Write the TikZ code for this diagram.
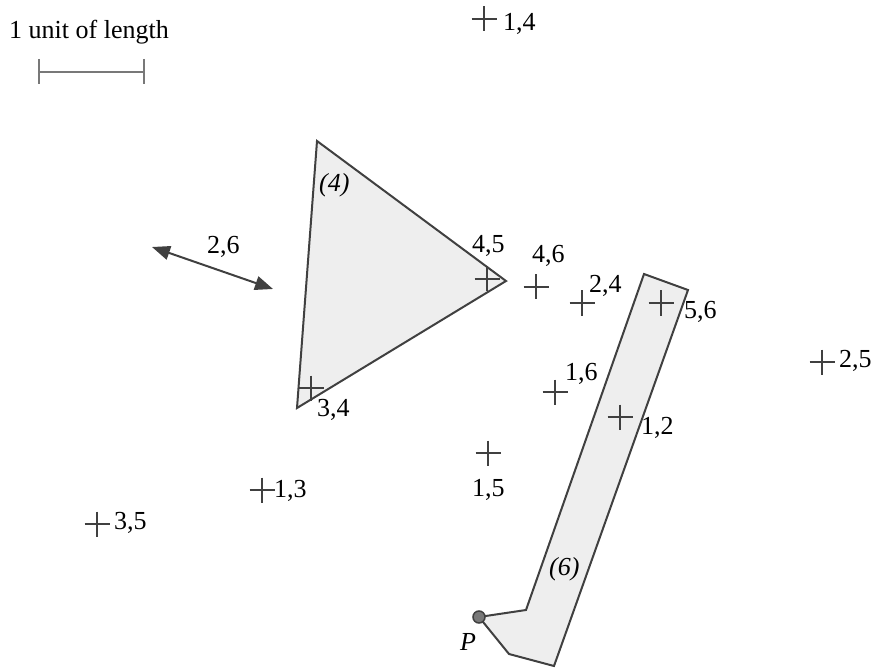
\documentclass[tikz,border=0pt]{standalone}
\usepackage{fontspec}
\setmainfont{Liberation Serif}
\usetikzlibrary{arrows.meta}
\definecolor{dk}{RGB}{64,64,64}
\definecolor{lt}{RGB}{238,238,238}
\definecolor{barc}{RGB}{120,120,120}
\tikzset{
  mk/.style={draw=dk, line width=1.5pt},
  region/.style={draw=dk, line width=2pt, fill=lt, line join=miter},
  lbl/.style={inner sep=0pt, anchor=base west, font=\fontsize{26}{30}\selectfont},
  ilbl/.style={lbl, font=\fontsize{26}{30}\selectfont\itshape},
  dblarrow/.style={draw=dk, line width=2pt, {Triangle[length=18pt,width=14pt]}-{Triangle[length=18pt,width=14pt]}},
  scalebar/.style={draw=barc, line width=1.6pt},
}
\newcommand\mkcross[1]{\draw[mk] (#1) +(-12.5,0) -- +(12.5,0) +(0,-12.5) -- +(0,12.5);}
\begin{document}
\begin{tikzpicture}[x=1pt,y=-1pt]
\useasboundingbox (0,0) rectangle (876,671);
% scale bar
\node[lbl] (title) at (9,39) {1 unit of length};
\coordinate (sbL) at (39,72);
\coordinate (sbR) at (144,72);
\draw[scalebar] (sbL) -- (sbR);
\draw[scalebar] (sbL) +(0,-13) -- +(0,12);
\draw[scalebar] (sbR) +(0,-13) -- +(0,12);
% triangle (4)
\coordinate (t1) at (317,141);
\coordinate (t2) at (506,281);
\coordinate (t3) at (297,408);
\draw[region] (t1) -- (t2) -- (t3) -- cycle;
\node[ilbl] (l4) at (319,192) {(4)};
% polygon (6)
\coordinate (q1) at (644,274);
\coordinate (q2) at (688,290);
\coordinate (q3) at (554,666);
\coordinate (q4) at (509,654);
\coordinate (P) at (479,617);
\coordinate (q6) at (526,610);
\draw[region] (q1) -- (q2) -- (q3) -- (q4) -- (P) -- (q6) -- cycle;
\node[ilbl] (l6) at (549,575) {(6)};
\draw[draw=dk, line width=1.5pt, fill=barc] (P) circle (6);
\node[ilbl] (lP) at (460,650) {P};
% double arrow 2,6
\coordinate (a1) at (152,247);
\coordinate (a2) at (273,289);
\draw[dblarrow] (a1) -- (a2);
\node[lbl] (l26) at (207,254) {2,6};
% crosses
\coordinate (c14) at (484,19);
\coordinate (c45) at (487,279);
\coordinate (c34) at (311,388);
\coordinate (c46) at (536,287);
\coordinate (c24) at (582,303);
\coordinate (c56) at (661,303);
\coordinate (c16) at (555,392);
\coordinate (c12) at (620,417);
\coordinate (c15) at (488,453);
\coordinate (c25) at (822,362);
\coordinate (c13) at (262,490);
\coordinate (c35) at (97,524);
\foreach \c in {c14,c45,c34,c46,c24,c56,c16,c12,c15,c25,c13,c35} {\mkcross{\c}}
% labels
\node[lbl] (l14) at (503,31) {1,4};
\node[lbl] (l45) at (472,253) {4,5};
\node[lbl] (l34) at (317,416) {3,4};
\node[lbl] (l46) at (532,262) {4,6};
\node[lbl] (l24) at (589,292) {2,4};
\node[lbl] (l56) at (684,318) {5,6};
\node[lbl] (l16) at (565,380) {1,6};
\node[lbl] (l12) at (641,434) {1,2};
\node[lbl] (l15) at (472,496) {1,5};
\node[lbl] (l25) at (839,367) {2,5};
\node[lbl] (l13) at (274,497) {1,3};
\node[lbl] (l35) at (114,529) {3,5};
\end{tikzpicture}
\end{document}
